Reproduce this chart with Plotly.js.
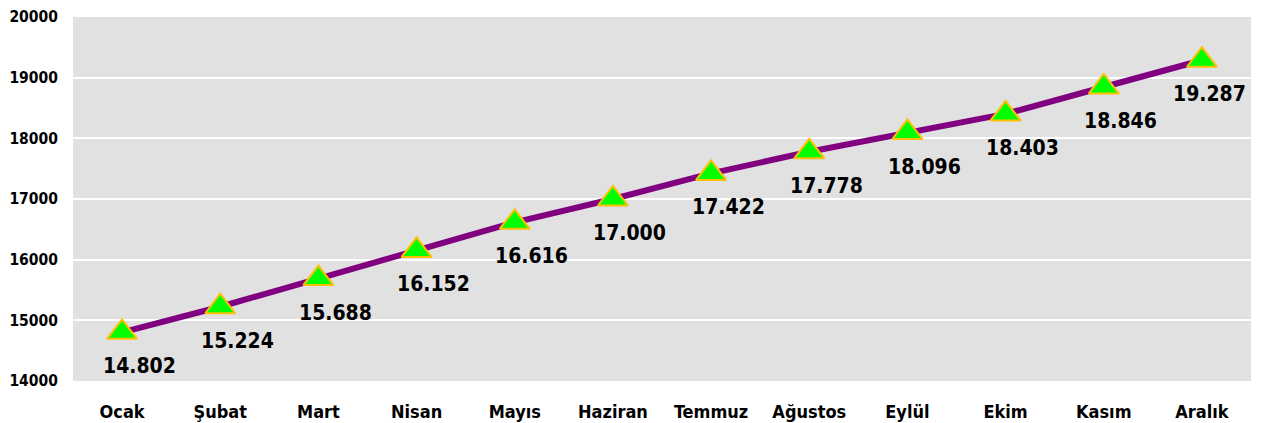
<!DOCTYPE html>
<html>
<head>
<meta charset="utf-8">
<script src="https://cdn.plot.ly/plotly-3.0.1.min.js"></script>
<style>html,body{margin:0;padding:0;background:#fff;}#chart{width:1267px;height:423px;}</style>
</head>
<body>
<div id="chart"></div>
<script>
const months = ["Ocak","Şubat","Mart","Nisan","Mayıs","Haziran","Temmuz","Ağustos","Eylül","Ekim","Kasım","Aralık"];
const values = [14802,15224,15688,16152,16616,17000,17422,17778,18096,18403,18846,19287];
const valueLabels = ["14.802","15.224","15.688","16.152","16.616","17.000","17.422","17.778","18.096","18.403","18.846","19.287"];
const yTicks = [14000,15000,16000,17000,18000,19000,20000];

const fontFam = "DejaVu Sans Condensed, DejaVu Sans, sans-serif";

const trace = {
  x: months,
  y: values,
  type: "scatter",
  mode: "lines+markers",
  line: {color: "#800080", width: 6},
  marker: {symbol: "triangle-up", size: 26, color: "#00ff00", line: {color: "#ffc000", width: 2}},
  hoverinfo: "skip",
  cliponaxis: false
};

const lastIdx = months.length - 1;
const annotations = months.map((m, i) => ({
  x: m, y: values[i], xref: "x", yref: "y",
  text: "<b>" + valueLabels[i] + "</b>",
  showarrow: false,
  xshift: i === lastIdx ? 8 : 17, yshift: -34,
  font: {family: fontFam, size: 21, color: "#000"}
}));

const layout = {
  width: 1267, height: 423,
  margin: {l: 73, r: 16, t: 17, b: 42},
  paper_bgcolor: "#ffffff",
  plot_bgcolor: "#e1e1e1",
  showlegend: false,
  font: {family: fontFam, color: "#000"},
  xaxis: {
    type: "category",
    tickvals: months,
    ticktext: months.map(m => "<b>" + m + "</b>"),
    tickfont: {family: fontFam, size: 18, color: "#000"},
    showgrid: false, zeroline: false, showline: false,
    ticks: "outside", ticklen: 14, tickcolor: "rgba(0,0,0,0)",
    range: [-0.5, 11.5], fixedrange: true
  },
  yaxis: {
    range: [14000, 20000],
    tickvals: yTicks,
    ticktext: yTicks.map(v => "<b>" + v + "</b>"),
    tickfont: {family: fontFam, size: 15.5, color: "#000"},
    showgrid: true, gridcolor: "#ffffff", gridwidth: 2,
    zeroline: false, showline: false,
    ticks: "outside", ticklen: 11, tickcolor: "rgba(0,0,0,0)",
    fixedrange: true
  },
  annotations: annotations
};

Plotly.newPlot("chart", [trace], layout, {displayModeBar: false, staticPlot: true});
</script>
</body>
</html>
